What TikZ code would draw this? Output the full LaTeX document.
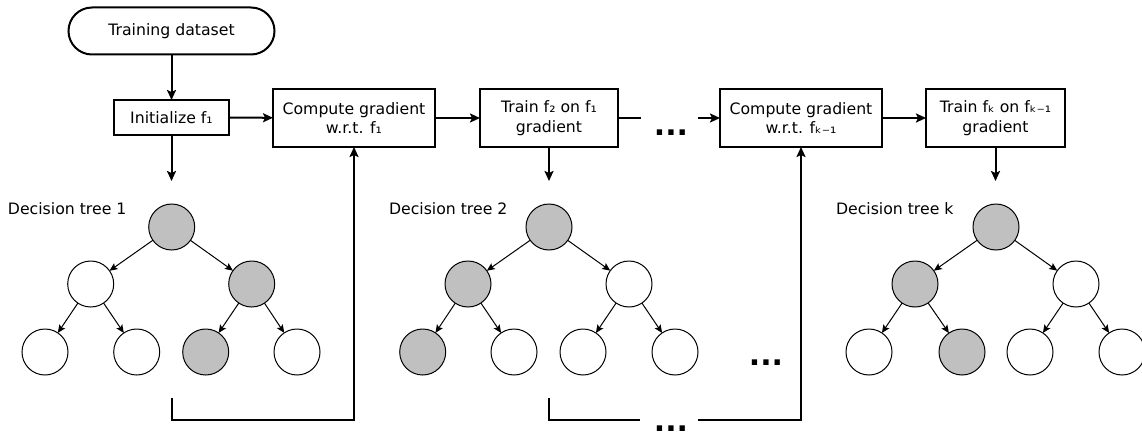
\documentclass[tikz,border=0pt]{standalone}
\usepackage{fontspec}
\setmainfont{DejaVu Sans}
\usetikzlibrary{arrows.meta,shapes.misc}
\begin{document}
\begin{tikzpicture}[x=1pt,y=-1pt,
  every node/.style={inner sep=0pt,outer sep=0pt},
  txt/.style={font=\fontsize{15.7}{19.5}\selectfont},
  procbox/.style={draw,line width=2pt,align=center,txt,minimum height=58pt},
  startbox/.style={draw,line width=2pt,rounded rectangle,txt,minimum width=206pt,minimum height=47pt},
  flow/.style={line width=2pt,-{Stealth[length=10pt,width=9pt,inset=2pt]}},
  plainline/.style={line width=2pt},
  leaf/.style={draw,circle,line width=1pt,minimum size=46pt,fill=white},
  hit/.style={leaf,fill=treegray},
  edge/.style={line width=1pt,-{Stealth[length=8pt,width=7pt,inset=1.5pt]}},
  dots/.style={font=\fontsize{30}{30}\bfseries\selectfont},
  lbl/.style={txt,anchor=west}]
\definecolor{treegray}{HTML}{C0C0C0}
\useasboundingbox (0,0) rectangle (1142,436);

% top row
\node[startbox] (td) at (171.5,31) {Training dataset};
\node[draw,line width=2pt,txt,minimum width=115pt,minimum height=35pt] (init) at (171.5,117.5) {Initialize f₁};
\node[procbox,minimum width=162pt] (cg1) at (354,118) {Compute gradient\\w.r.t. f₁};
\node[procbox,minimum width=138pt] (tr2) at (549,118) {Train f₂ on f₁\\gradient};
\node[procbox,minimum width=162pt] (cgk) at (801,118) {Compute gradient\\w.r.t. fₖ₋₁};
\node[procbox,minimum width=139pt] (trk) at (995.5,118) {Train fₖ on fₖ₋₁\\gradient};
\node[dots] (dtop) at (671,133) {...};

\coordinate (g1) at (641,118);
\coordinate (g2) at (698,118);

\draw[flow] (td) -- (init);
\draw[flow] (init) -- (cg1);
\draw[flow] (cg1) -- (tr2);
\draw[plainline] (tr2.east) -- (g1);
\draw[flow] (g2) -- (cgk.west);
\draw[flow] (cgk) -- (trk);

\coordinate (a1) at (171.5,181);
\coordinate (a2) at (549,181);
\coordinate (a3) at (995.5,181);
\draw[flow] (init.south) -- (a1);
\draw[flow] (tr2.south) -- (a2);
\draw[flow] (trk.south) -- (a3);

% tree 1
\node[lbl] (l1) at (8,209) {Decision tree 1};
\node[hit] (t1r) at (171.7,227) {};
\node[leaf] (t1a) at (90.7,284) {};
\node[hit] (t1b) at (251.7,284) {};
\node[leaf] (t1c) at (45,352) {};
\node[leaf] (t1d) at (136.7,352) {};
\node[hit] (t1e) at (205.7,352) {};
\node[leaf] (t1f) at (297,352) {};
\draw[edge] (t1r) -- (t1a);
\draw[edge] (t1r) -- (t1b);
\draw[edge] (t1a) -- (t1c);
\draw[edge] (t1a) -- (t1d);
\draw[edge] (t1b) -- (t1e);
\draw[edge] (t1b) -- (t1f);

% tree 2
\node[lbl] (l2) at (389,209) {Decision tree 2};
\node[hit] (t2r) at (549,227) {};
\node[hit] (t2a) at (468,284) {};
\node[leaf] (t2b) at (629,284) {};
\node[hit] (t2c) at (422.7,352) {};
\node[leaf] (t2d) at (514,352) {};
\node[leaf] (t2e) at (583,352) {};
\node[leaf] (t2f) at (675,352) {};
\draw[edge] (t2r) -- (t2a);
\draw[edge] (t2r) -- (t2b);
\draw[edge] (t2a) -- (t2c);
\draw[edge] (t2a) -- (t2d);
\draw[edge] (t2b) -- (t2e);
\draw[edge] (t2b) -- (t2f);

\node[dots] (dmid) at (766,363) {...};

% tree k
\node[lbl] (lk) at (836,209) {Decision tree k};
\node[hit] (tkr) at (996,227) {};
\node[hit] (tka) at (915,284) {};
\node[leaf] (tkb) at (1076,284) {};
\node[leaf] (tkc) at (869,352) {};
\node[hit] (tkd) at (962,352) {};
\node[leaf] (tke) at (1030,352) {};
\node[leaf] (tkf) at (1122,352) {};
\draw[edge] (tkr) -- (tka);
\draw[edge] (tkr) -- (tkb);
\draw[edge] (tka) -- (tkc);
\draw[edge] (tka) -- (tkd);
\draw[edge] (tkb) -- (tke);
\draw[edge] (tkb) -- (tkf);

% feedback lines
\coordinate (f1) at (171.5,398);
\coordinate (f1c) at (171.5,420);
\draw[flow] (f1) -- (f1c) -| (cg1.south);

\coordinate (f2) at (549,398);
\coordinate (f2c) at (549,420);
\coordinate (f2e) at (640,420);
\coordinate (f2s) at (698,420);
\draw[plainline] (f2) -- (f2c) -- (f2e);
\draw[flow] (f2s) -| (cgk.south);
\node[dots] (dbot) at (671,429) {...};
\end{tikzpicture}
\end{document}
